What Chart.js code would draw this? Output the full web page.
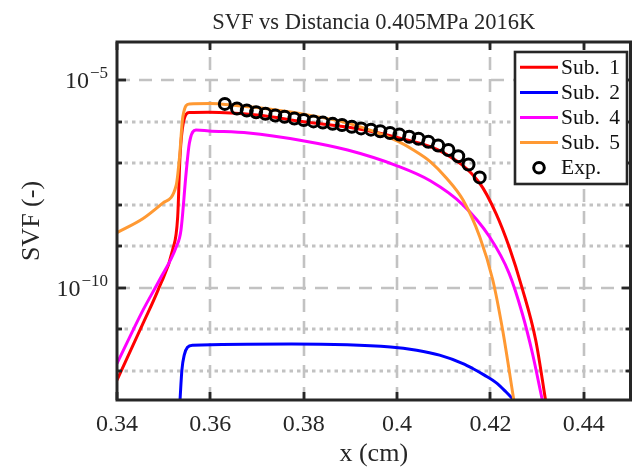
<!DOCTYPE html>
<html>
<head>
<meta charset="utf-8">
<script src="https://cdn.jsdelivr.net/npm/chart.js@4.4.0/dist/chart.umd.min.js"></script>
<style>
  html, body { margin: 0; padding: 0; background: #ffffff; }
  #wrap { width: 639px; height: 471px; }
</style>
</head>
<body>
<div id="wrap"><canvas id="c" width="639" height="471"></canvas></div>
<script>
// ---- data: position x (cm) and solid volume fraction SVF (-) ----
const sub1X = [0.3400, 0.3456, 0.3491, 0.3519, 0.3530, 0.3535, 0.3542, 0.3555, 0.3597, 0.3700,
               0.3800, 0.3900, 0.4000, 0.4100, 0.4177, 0.4212, 0.4240, 0.4268, 0.4297, 0.4318];
const sub1Y = [6.03e-13, 1.41e-11, 1.07e-10, 8.13e-10, 5.13e-9, 1.45e-7, 9.33e-7, 1.66e-6, 1.70e-6, 1.45e-6,
               1.00e-6, 7.24e-7, 4.17e-7, 1.78e-7, 3.31e-8, 6.17e-9, 9.77e-10, 9.77e-11, 5.50e-12, 2.00e-13];

const sub2X = [0.3535, 0.3539, 0.3544, 0.3551, 0.3562, 0.3774, 0.3986, 0.4042, 0.4091, 0.4141,
               0.4162, 0.4187, 0.4212, 0.4233, 0.4250];
const sub2Y = [2.00e-13, 1.05e-12, 2.40e-12, 3.72e-12, 4.17e-12, 4.47e-12, 3.80e-12, 3.16e-12, 2.40e-12, 1.51e-12,
               1.15e-12, 7.94e-13, 5.25e-13, 3.16e-13, 2.00e-13];

const sub4X = [0.3400, 0.3456, 0.3491, 0.3527, 0.3537, 0.3548, 0.3555, 0.3569, 0.3597, 0.3682,
               0.3795, 0.3894, 0.4000, 0.4071, 0.4141, 0.4198, 0.4240, 0.4268, 0.4290, 0.4311];
const sub4Y = [1.51e-12, 2.95e-11, 1.55e-10, 9.77e-10, 2.45e-9, 5.75e-8, 3.02e-7, 6.31e-7, 6.03e-7, 5.37e-7,
               3.55e-7, 2.09e-7, 8.71e-8, 3.80e-8, 1.00e-8, 1.70e-9, 2.24e-10, 2.45e-11, 2.63e-12, 2.00e-13];

const sub5X = [0.3400, 0.3456, 0.3498, 0.3527, 0.3534, 0.3541, 0.3555, 0.3600, 0.3650, 0.3700,
               0.3800, 0.3900, 0.4000, 0.4035, 0.4071, 0.4106, 0.4141, 0.4177, 0.4205, 0.4226, 0.4250];
const sub5Y = [2.14e-9, 4.68e-9, 1.10e-8, 3.02e-8, 1.45e-7, 1.32e-6, 2.69e-6, 2.75e-6, 2.51e-6, 2.19e-6,
               1.51e-6, 8.91e-7, 3.47e-7, 2.09e-7, 1.10e-7, 4.37e-8, 1.32e-8, 1.70e-9, 1.55e-10, 9.77e-12, 2.00e-13];

const expX = [0.3631, 0.3657, 0.3678, 0.3698, 0.3718, 0.3739, 0.3759, 0.3780, 0.3800, 0.3821,
              0.3841, 0.3862, 0.3882, 0.3903, 0.3923, 0.3944, 0.3964, 0.3985, 0.4005, 0.4026,
              0.4046, 0.4067, 0.4088, 0.4110, 0.4131, 0.4153, 0.4177];
const expY = [2.69e-6, 2.09e-6, 1.86e-6, 1.70e-6, 1.55e-6, 1.41e-6, 1.32e-6, 1.20e-6, 1.10e-6, 1.02e-6,
              9.55e-7, 8.91e-7, 8.32e-7, 7.59e-7, 6.92e-7, 6.46e-7, 5.89e-7, 5.37e-7, 4.90e-7, 4.37e-7,
              3.89e-7, 3.31e-7, 2.69e-7, 2.09e-7, 1.48e-7, 9.33e-8, 4.57e-8];

const seriesLabels = ['Sub. 1', 'Sub. 2', 'Sub. 4', 'Sub. 5', 'Exp.'];
const seriesColors = ['#ff0000', '#0000ff', '#ff00ff', '#ff9933', '#000000'];

// ---- axes ----
const xRange = [0.34, 0.45];
const yRange = [2.0e-13, 8.32e-5];
const xTicks = [0.34, 0.36, 0.38, 0.40, 0.42, 0.44];
const yMajorTicks = [1e-10, 1e-5];
const yMinorTicks = [1e-12, 1e-11, 1e-9, 1e-8, 1e-7, 1e-6];

const AXIS_COLOR = '#262626';
const GRID_COLOR = '#c2c2c2';
const SERIF = '"Liberation Serif", "Times New Roman", serif';

function pairs(xs, ys) { return xs.map((v, i) => ({ x: v, y: ys[i] })); }

function lineSet(label, xs, ys, color, order) {
  return {
    label, data: pairs(xs, ys), borderColor: color, backgroundColor: color,
    borderWidth: 3, pointRadius: 0, pointHoverRadius: 0, fill: false,
    cubicInterpolationMode: 'monotone', clip: 0, order
  };
}

// grid, axis box, ticks, log labels, titles and legend
const matlabFrame = {
  id: 'matlabFrame',
  beforeDatasetsDraw(chart) {
    const { ctx, chartArea: a, scales: { x, y } } = chart;
    ctx.save();
    ctx.beginPath();
    ctx.rect(a.left, a.top, a.right - a.left, a.bottom - a.top);
    ctx.clip();
    ctx.strokeStyle = GRID_COLOR;
    ctx.lineCap = 'butt';
    ctx.lineWidth = 2.6;
    ctx.setLineDash([13, 9]);
    xTicks.forEach(v => {
      const px = Math.round(x.getPixelForValue(v));
      if (px <= a.left + 2) return;
      ctx.beginPath(); ctx.moveTo(px, a.bottom); ctx.lineTo(px, a.top); ctx.stroke();
    });
    yMajorTicks.forEach(v => {
      const py = Math.round(y.getPixelForValue(v));
      ctx.beginPath(); ctx.moveTo(a.left, py); ctx.lineTo(a.right, py); ctx.stroke();
    });
    ctx.lineWidth = 3;
    ctx.setLineDash([3.5, 4]);
    yMinorTicks.forEach(v => {
      const py = Math.round(y.getPixelForValue(v));
      ctx.beginPath(); ctx.moveTo(a.left, py); ctx.lineTo(a.right, py); ctx.stroke();
    });
    ctx.restore();
  },
  afterDatasetsDraw(chart) {
    const { ctx, chartArea: a, scales: { x, y } } = chart;
    ctx.save();
    ctx.setLineDash([]);
    ctx.strokeStyle = AXIS_COLOR;
    ctx.lineWidth = 2.8;
    // ticks (inward, all four sides)
    const tick = (x0, y0, x1, y1) => { ctx.beginPath(); ctx.moveTo(x0, y0); ctx.lineTo(x1, y1); ctx.stroke(); };
    xTicks.forEach(v => {
      const px = Math.round(x.getPixelForValue(v));
      tick(px, a.bottom, px, a.bottom - 8);
      tick(px, a.top, px, a.top + 8);
    });
    yMajorTicks.forEach(v => {
      const py = Math.round(y.getPixelForValue(v));
      tick(a.left, py, a.left + 9, py);
      tick(a.right, py, a.right - 9, py);
    });
    yMinorTicks.forEach(v => {
      const py = Math.round(y.getPixelForValue(v));
      tick(a.left, py, a.left + 5, py);
      tick(a.right, py, a.right - 5, py);
    });
    // axis box
    ctx.lineWidth = 3;
    ctx.strokeRect(a.left, a.top, a.right - a.left, a.bottom - a.top);

    // y tick labels: 10^n
    ctx.fillStyle = AXIS_COLOR;
    ctx.textBaseline = 'alphabetic';
    yMajorTicks.forEach(v => {
      const py = y.getPixelForValue(v);
      const exp = '\u2212' + String(Math.abs(Math.round(Math.log10(v))));
      ctx.font = '17px ' + SERIF;
      const ew = ctx.measureText(exp).width;
      ctx.font = '24px ' + SERIF;
      const bw = ctx.measureText('10').width;
      const right = a.left - 9;
      ctx.textAlign = 'left';
      ctx.fillText('10', right - ew - bw - 1, py + 8);
      ctx.font = '17px ' + SERIF;
      ctx.fillText(exp, right - ew, py - 2);
    });

    // titles
    ctx.textAlign = 'center';
    ctx.font = '22.5px ' + SERIF;
    ctx.fillText('SVF vs Distancia 0.405MPa 2016K', (a.left + a.right) / 2, 29);
    ctx.font = '26px ' + SERIF;
    ctx.fillText('x (cm)', (a.left + a.right) / 2, 461);
    ctx.save();
    ctx.translate(39, (a.top + a.bottom) / 2);
    ctx.rotate(-Math.PI / 2);
    ctx.fillText('SVF (-)', 0, 0);
    ctx.restore();

    // legend box
    const lx = 515, ly = 52, lw = 112, lh = 132;
    ctx.fillStyle = '#ffffff';
    ctx.fillRect(lx, ly, lw, lh);
    ctx.strokeStyle = AXIS_COLOR;
    ctx.lineWidth = 2.6;
    ctx.strokeRect(lx, ly, lw, lh);
    ctx.font = '21.5px ' + SERIF;
    chart.data.datasets.forEach((ds, i) => {
      const ry = 67.3 + i * 25.1;
      if (ds.showLine === false) {
        ctx.beginPath();
        ctx.arc(539, ry, 5.3, 0, Math.PI * 2);
        ctx.strokeStyle = ds.pointBorderColor;
        ctx.lineWidth = 3;
        ctx.stroke();
      } else {
        ctx.beginPath();
        ctx.moveTo(520, ry); ctx.lineTo(558, ry);
        ctx.strokeStyle = ds.borderColor;
        ctx.lineWidth = 3;
        ctx.stroke();
      }
      ctx.fillStyle = '#111111';
      const cut = ds.label.lastIndexOf(' ');
      if (cut > 0) {
        ctx.textAlign = 'left';
        ctx.fillText(ds.label.slice(0, cut), 561, ry + 6.5);
        ctx.textAlign = 'right';
        ctx.fillText(ds.label.slice(cut + 1), 620, ry + 6.5);
      } else {
        ctx.textAlign = 'left';
        ctx.fillText(ds.label, 561, ry + 6.5);
      }
    });
    ctx.restore();
  }
};

new Chart(document.getElementById('c'), {
  type: 'line',
  data: {
    datasets: [
      lineSet(seriesLabels[0], sub1X, sub1Y, seriesColors[0], 4),
      lineSet(seriesLabels[1], sub2X, sub2Y, seriesColors[1], 3),
      lineSet(seriesLabels[2], sub4X, sub4Y, seriesColors[2], 2),
      lineSet(seriesLabels[3], sub5X, sub5Y, seriesColors[3], 1),
      {
        label: seriesLabels[4], data: pairs(expX, expY), showLine: false,
        pointRadius: 5.5, pointHoverRadius: 5.5, pointBorderWidth: 3,
        pointBorderColor: seriesColors[4], pointBackgroundColor: 'rgba(0,0,0,0)',
        borderColor: seriesColors[4], pointStyle: 'circle', clip: 0, order: 0
      }
    ]
  },
  options: {
    responsive: false,
    animation: false,
    devicePixelRatio: 1,
    layout: { padding: { top: 42, right: 3, left: 0, bottom: 0 } },
    plugins: { legend: { display: false }, tooltip: { enabled: false }, title: { display: false } },
    events: [],
    scales: {
      x: {
        type: 'linear', min: xRange[0], max: xRange[1],
        afterBuildTicks: s => { s.ticks = xTicks.map(v => ({ value: v })); },
        afterFit: s => { s.height = 71; },
        grid: { display: false, drawTicks: false },
        border: { display: false },
        ticks: {
          autoSkip: false, maxRotation: 0, padding: 10, color: AXIS_COLOR,
          font: { family: SERIF, size: 24 },
          callback: v => String(Number(v.toFixed(2)))
        }
      },
      y: {
        type: 'logarithmic', min: yRange[0], max: yRange[1],
        afterBuildTicks: s => { s.ticks = yMajorTicks.map(v => ({ value: v })); },
        afterFit: s => { s.width = 117; },
        grid: { display: false, drawTicks: false },
        border: { display: false },
        ticks: { display: false }
      }
    }
  },
  plugins: [matlabFrame]
});
</script>
</body>
</html>
